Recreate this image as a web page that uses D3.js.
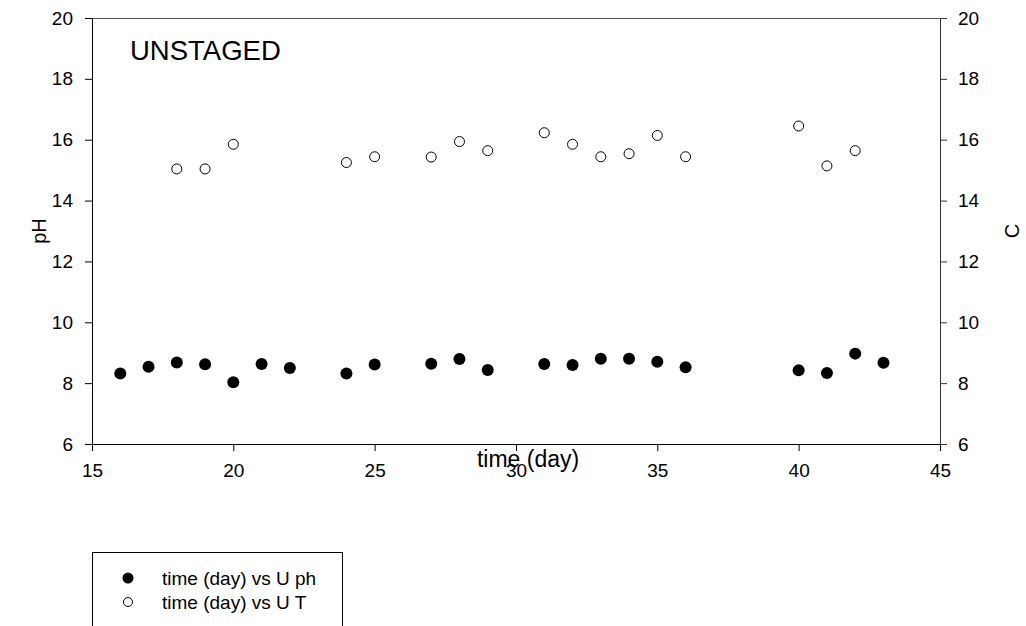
<!DOCTYPE html>
<html>
<head>
<meta charset="utf-8">
<script src="https://cdn.jsdelivr.net/npm/d3@7"></script>
<style>
  html, body { margin: 0; padding: 0; background: #fff; }
  svg { display: block; font-family: "Liberation Sans", Arial, sans-serif; }
</style>
</head>
<body>
<svg id="chart" width="1026" height="626"></svg>
<script>
// ---- data ----
const phDays = [16, 17, 18, 19, 20, 21, 22, 24, 25, 27, 28, 29, 31, 32, 33, 34, 35, 36, 40, 41, 42, 43];
const phValues = [8.32, 8.54, 8.68, 8.62, 8.03, 8.63, 8.50, 8.32, 8.61, 8.64, 8.79, 8.43, 8.63, 8.60, 8.80, 8.80, 8.70, 8.52, 8.42, 8.33, 8.97, 8.67];
const tDays = [18, 19, 20, 24, 25, 27, 28, 29, 31, 32, 33, 34, 35, 36, 40, 41, 42];
const tValues = [15.04, 15.04, 15.85, 15.25, 15.44, 15.43, 15.94, 15.64, 16.23, 15.85, 15.44, 15.54, 16.14, 15.44, 16.45, 15.14, 15.64];
const xTicks = [15, 20, 25, 30, 35, 40, 45];
const yTicks = [6, 8, 10, 12, 14, 16, 18, 20];
const legendLabels = ["time (day) vs U ph", "time (day) vs U T"];
const titleText = "UNSTAGED";

const svg = d3.select("#chart");
const L = 92, R = 940, T = 18, B = 444;
const x = d3.scaleLinear().domain([15, 45]).range([L, R]);
const y = d3.scaleLinear().domain([6, 20]).range([B, T]);

// frame top line
svg.append("line").attr("x1", L).attr("x2", R).attr("y1", T + 0.5).attr("y2", T + 0.5)
  .attr("stroke", "#555").attr("stroke-width", 1);

function styleAxis(g, color) {
  g.selectAll(".domain").attr("stroke", color);
  g.selectAll(".tick line").attr("stroke", color);
  g.selectAll(".tick text").attr("fill", "#000").attr("font-size", 19)
    .attr("font-family", "'Liberation Sans', Arial, sans-serif");
}

const xAxis = svg.append("g").attr("transform", `translate(0,${B})`)
  .call(d3.axisBottom(x).tickValues(xTicks).tickSizeOuter(0).tickSize(7).tickPadding(13));
styleAxis(xAxis, "#000");

const yAxisL = svg.append("g").attr("transform", `translate(${L},0)`)
  .call(d3.axisLeft(y).tickValues(yTicks).tickSizeOuter(0).tickSize(7).tickPadding(12));
styleAxis(yAxisL, "#000");

const yAxisR = svg.append("g").attr("transform", `translate(${R},0)`)
  .call(d3.axisRight(y).tickValues(yTicks).tickSizeOuter(0).tickSize(7).tickPadding(11));
styleAxis(yAxisR, "#333");

// axis titles
svg.append("text").attr("x", 528).attr("y", 467).attr("text-anchor", "middle")
  .attr("font-size", 23).text("time (day)");
svg.append("text").attr("transform", "translate(46,231) rotate(-90)").attr("text-anchor", "middle")
  .attr("font-size", 20).text("pH");
svg.append("text").attr("transform", "translate(1019,231) rotate(-90)").attr("text-anchor", "middle")
  .attr("font-size", 20).text("C");

// title
svg.append("text").attr("x", 130).attr("y", 60).attr("font-size", 27.5).text(titleText);

// data points
const phData = phDays.map((d, i) => ({ d, v: phValues[i] }));
const tData = tDays.map((d, i) => ({ d, v: tValues[i] }));

svg.append("g").selectAll("circle").data(phData).join("circle")
  .attr("cx", p => x(p.d)).attr("cy", p => y(p.v)).attr("r", 6).attr("fill", "#000");

svg.append("g").selectAll("circle").data(tData).join("circle")
  .attr("cx", p => x(p.d)).attr("cy", p => y(p.v)).attr("r", 5)
  .attr("fill", "#fff").attr("stroke", "#000").attr("stroke-width", 1);

// legend
const lg = svg.append("g");
lg.append("rect").attr("x", 92.5).attr("y", 552.5).attr("width", 250).attr("height", 100)
  .attr("fill", "#fff").attr("stroke", "#000").attr("stroke-width", 1);
const rows = [578, 602];
lg.append("circle").attr("cx", 128).attr("cy", rows[0]).attr("r", 5.5).attr("fill", "#000");
lg.append("circle").attr("cx", 128).attr("cy", rows[1]).attr("r", 4.5).attr("fill", "#fff")
  .attr("stroke", "#000").attr("stroke-width", 1);
legendLabels.forEach((t, i) => {
  lg.append("text").attr("x", 162).attr("y", rows[i] + 7).attr("font-size", 19).text(t);
});
</script>
</body>
</html>
